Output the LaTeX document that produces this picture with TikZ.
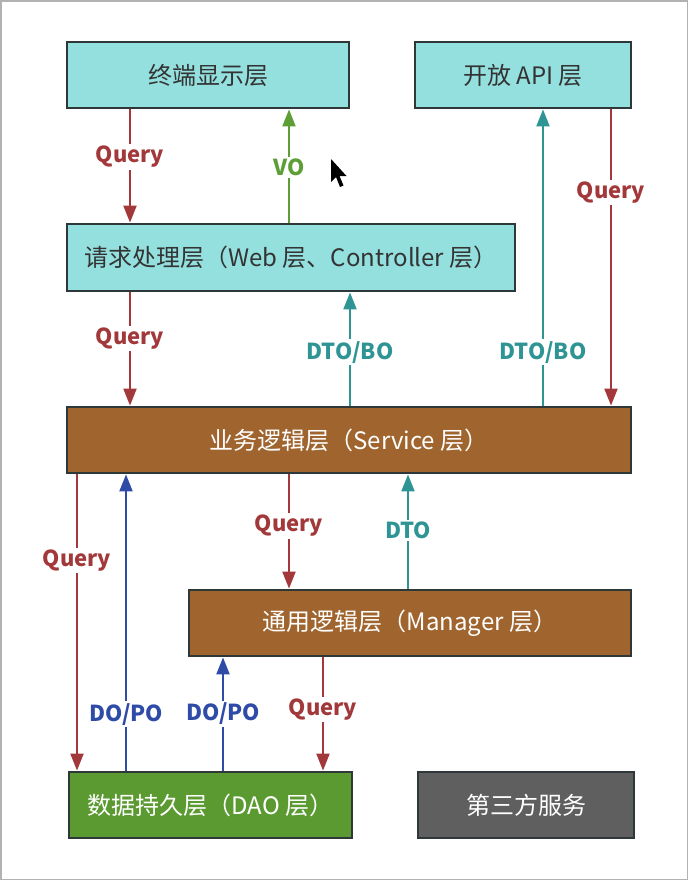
\documentclass[tikz,border=0pt]{standalone}
\usepackage{fontspec}
\setmainfont{Noto Sans CJK SC}
\usetikzlibrary{arrows.meta}
\definecolor{tealfill}{HTML}{94E0DF}
\definecolor{brownfill}{HTML}{A0652F}
\definecolor{greenfill}{HTML}{5B9A31}
\definecolor{greyfill}{HTML}{5F5F5F}
\definecolor{boxline}{HTML}{2F3838}
\definecolor{qred}{HTML}{A3383B}
\definecolor{vgreen}{HTML}{5E9E37}
\definecolor{dteal}{HTML}{2F9494}
\definecolor{dblue}{HTML}{2E4BA7}
\tikzset{
  layer/.style={draw=boxline, line width=2.8pt, minimum height=66pt, inner sep=0pt, font=\fontsize{24}{28}\selectfont},
  lightlayer/.style={layer, fill=tealfill, text=black!80},
  darklayer/.style={layer, text=white},
  flow/.style={line width=2pt, -{Triangle[width=13pt,length=17pt]}},
  lbl/.style={fill=white, inner sep=2pt, font=\fontsize{22}{24}\selectfont\bfseries},
}
\begin{document}
\begin{tikzpicture}[x=1pt,y=-1pt]
\useasboundingbox (0,0) rectangle (689,881);
\draw[gray!60, line width=1.5pt] (0.75,0.75) rectangle (687.5,879.5);

\node[lightlayer, minimum width=282pt] (disp) at (208,75) {终端显示层};
\node[lightlayer, minimum width=216pt] (api) at (523,75) {开放 API 层};
\node[lightlayer, minimum width=448pt, minimum height=67pt] (req) at (291,257.5) {请求处理层（Web 层、Controller 层）};
\node[darklayer, fill=brownfill, minimum width=564pt] (svc) at (349,440) {业务逻辑层（Service 层）};
\node[darklayer, fill=brownfill, minimum width=442pt] (mgr) at (410,623) {通用逻辑层（Manager 层）};
\node[darklayer, fill=greenfill, minimum width=283pt] (dao) at (210.5,805) {数据持久层（DAO 层）};
\node[darklayer, fill=greyfill, minimum width=216pt] (third) at (526,805) {第三方服务};

\coordinate (x1) at (130,0);
\coordinate (x2) at (289,0);
\coordinate (x3) at (543,0);
\coordinate (x4) at (611,0);
\coordinate (x5) at (350,0);
\coordinate (x6) at (77,0);
\coordinate (x7) at (126,0);
\coordinate (x8) at (289,0);
\coordinate (x9) at (408,0);
\coordinate (x10) at (223,0);
\coordinate (x11) at (323,0);

\draw[flow, qred] (disp.south -| x1) -- node[lbl, text=qred, pos=0.42] {Query} (req.north -| x1);
\draw[flow, vgreen] (req.north -| x2) -- node[lbl, text=vgreen, pos=0.49] {VO} (disp.south -| x2);
\draw[flow, dteal] (svc.north -| x3) -- node[lbl, text=dteal, pos=0.18] {DTO/BO} (api.south -| x3);
\draw[flow, qred] (api.south -| x4) -- node[lbl, text=qred, pos=0.28] {Query} (svc.north -| x4);
\draw[flow, qred] (req.south -| x1) -- node[lbl, text=qred, pos=0.405] {Query} (svc.north -| x1);
\draw[flow, dteal] (svc.north -| x5) -- node[lbl, text=dteal, pos=0.47] {DTO/BO} (req.south -| x5);
\draw[flow, qred] (svc.south -| x6) -- node[lbl, text=qred, pos=0.29] {Query} (dao.north -| x6);
\draw[flow, dblue] (dao.north -| x7) -- node[lbl, text=dblue, pos=0.19] {DO/PO} (svc.south -| x7);
\draw[flow, qred] (svc.south -| x8) -- node[lbl, text=qred, pos=0.45] {Query} (mgr.north -| x8);
\draw[flow, dteal] (mgr.north -| x9) -- node[lbl, text=dteal, pos=0.51] {DTO} (svc.south -| x9);
\draw[flow, dblue] (dao.north -| x10) -- node[lbl, text=dblue, pos=0.5] {DO/PO} (mgr.south -| x10);
\draw[flow, qred] (mgr.south -| x11) -- node[lbl, text=qred, pos=0.46] {Query} (dao.north -| x11);

% mouse cursor
\fill[black] (331,159) -- (331,182) -- (336,177) -- (340,187) -- (343.5,185.5) -- (339.5,176) -- (346.5,176) -- cycle;
\end{tikzpicture}
\end{document}
